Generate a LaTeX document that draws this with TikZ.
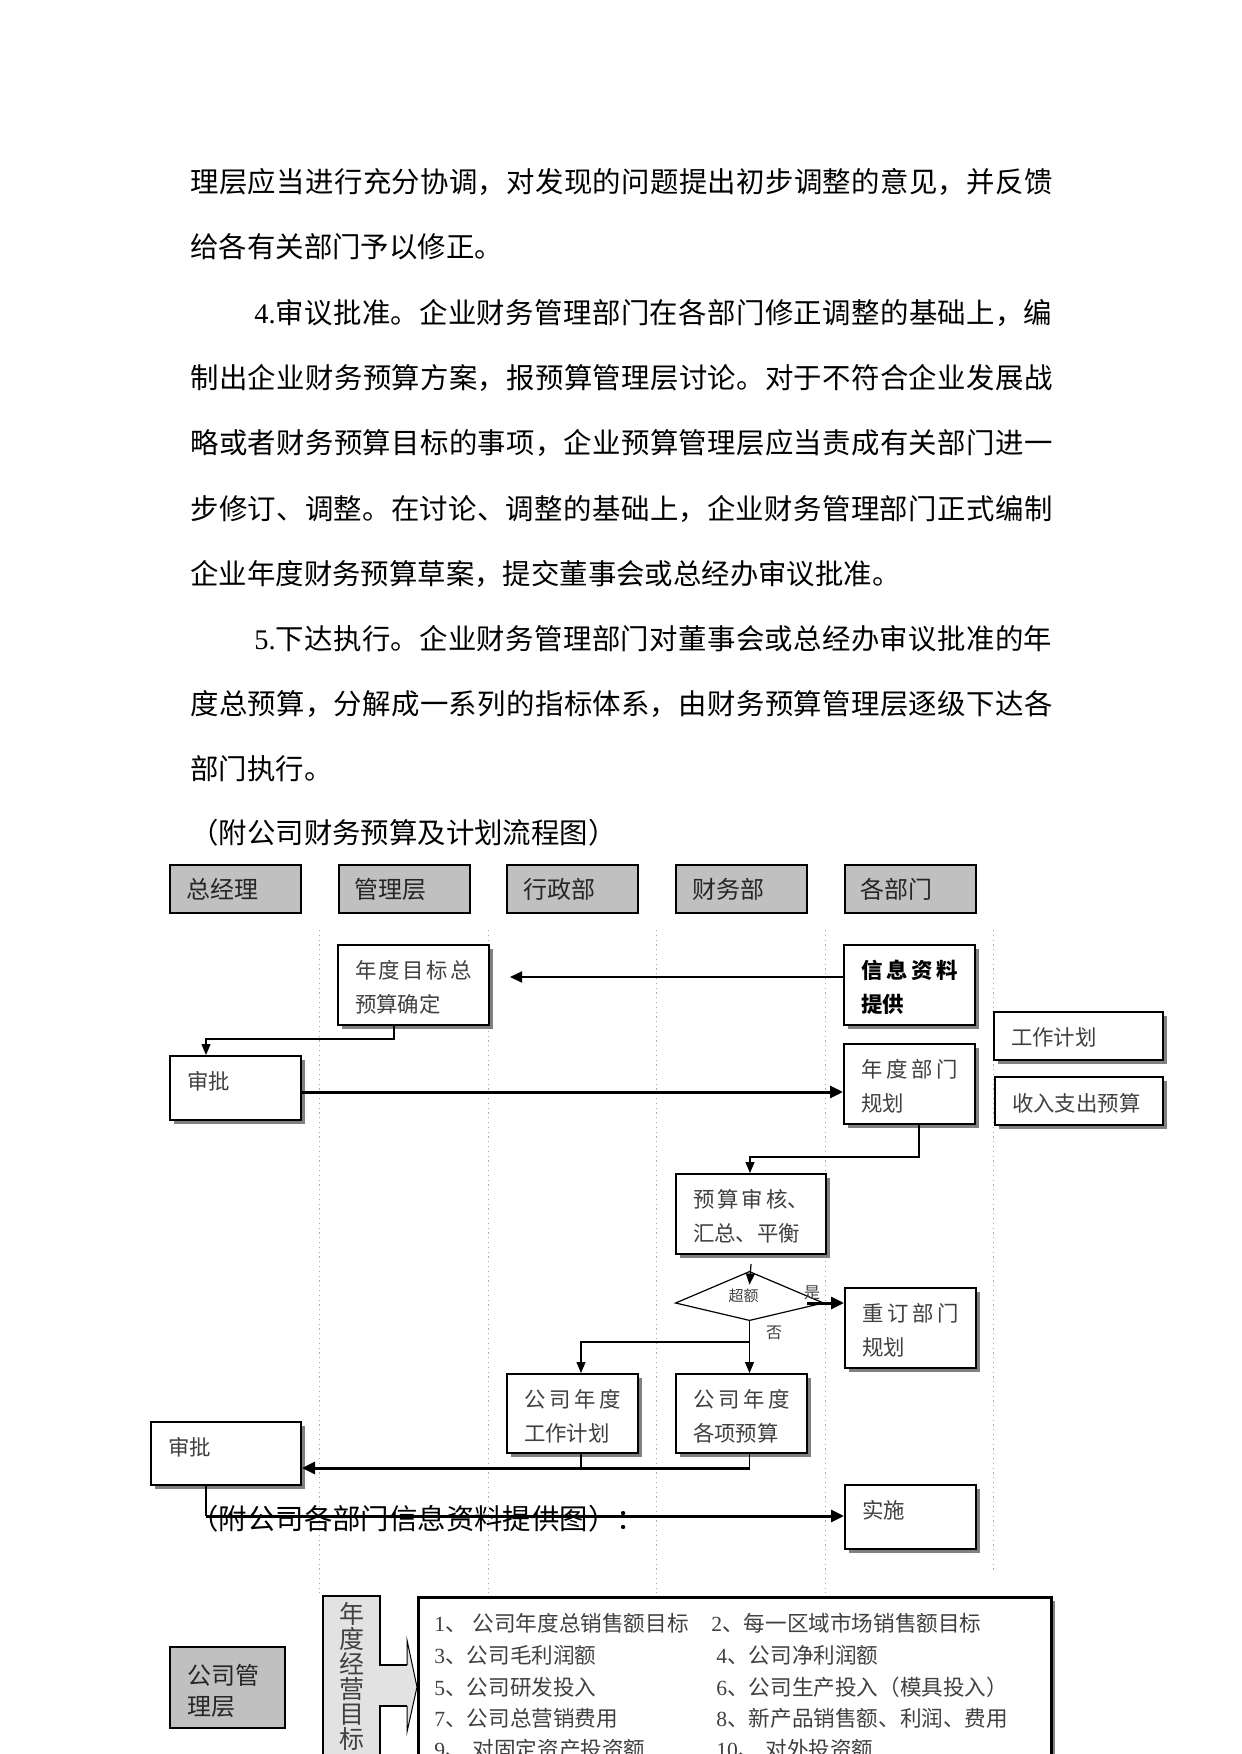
\documentclass[tikz,border=0pt]{standalone}
\usepackage{fontspec}
\setmainfont{Noto Sans CJK SC}
\newfontfamily\tnr{Liberation Serif}
\usetikzlibrary{arrows.meta,shapes.geometric,shadows}
\XeTeXlinebreaklocale "zh"
\XeTeXlinebreakskip=0pt plus 4pt
\definecolor{hdrgray}{HTML}{C0C0C0}
\definecolor{vgray}{HTML}{E2E2E2}
\definecolor{txtgray}{HTML}{404040}
\definecolor{lanegray}{HTML}{A8A8A8}
\newcommand\bx[4]{\parbox[c][#2][t]{#1}{\vspace*{#3}#4}}
\newcommand\jl[2]{\parbox[b]{#1}{\parfillskip=0pt\relax #2}}
\newcommand\dg[1]{{\tnr #1}}
\newcommand\bodyf{\fontsize{14.2pt}{17pt}\selectfont}
\newcommand\boxf{\fontsize{10.7pt}{17pt}\selectfont}
\newcommand\listf{\fontsize{10.8pt}{13pt}\selectfont}
\tikzset{
  bodyline/.style={anchor=base west, inner sep=0pt, font=\bodyf},
  hdr/.style={draw, line width=1pt, fill=hdrgray, anchor=north west,
    minimum width=65.5pt, minimum height=24pt, inner xsep=8pt,
    text width=49.5pt, align=left, font=\fontsize{12pt}{14pt}\selectfont, text=black!85},
  box/.style={draw, line width=1pt, fill=white,
    drop shadow={shadow xshift=2pt, shadow yshift=-1.8pt, fill=black!50, opacity=1},
    anchor=north west, inner xsep=8.5pt, inner ysep=0pt, font=\boxf, text=txtgray},
  lane/.style={draw=lanegray, line width=0.5pt, dash pattern=on 0.6pt off 1.8pt},
  thinarr/.style={line width=0.6pt, -{Triangle[length=5.5pt,width=4.5pt]}},
  thinln/.style={line width=0.6pt},
  medarr/.style={line width=1pt, -{Triangle[length=6pt,width=5.5pt]}},
  thickarr/.style={line width=1.5pt, -{Triangle[length=6.5pt,width=6pt]}},
  lbl/.style={inner sep=0pt, font=\fontsize{8pt}{9pt}\selectfont, text=txtgray},
  listitem/.style={anchor=base west, inner sep=0pt, font=\listf, text=txtgray}
}
\begin{document}
\begin{tikzpicture}[x=0.5pt,y=-0.5pt]
\useasboundingbox (0,0) rectangle (1241,1754);
\clip (0,0) rectangle (1241,1754);
\fill[white] (0,0) rectangle (1241,1754);

% body text
\node[bodyline] (t1) at (190,193) {\jl{431pt}{理层应当进行充分协调，对发现的问题提出初步调整的意见，并反馈}};
\node[bodyline] (t2) at (190,258) {给各有关部门予以修正。};
\node[bodyline] (t3) at (254,324) {\jl{399pt}{\dg{4.}审议批准。企业财务管理部门在各部门修正调整的基础上，编}};
\node[bodyline] (t4) at (190,389) {\jl{431pt}{制出企业财务预算方案，报预算管理层讨论。对于不符合企业发展战}};
\node[bodyline] (t5) at (190,454) {\jl{431pt}{略或者财务预算目标的事项，企业预算管理层应当责成有关部门进一}};
\node[bodyline] (t6) at (190,519) {\jl{431pt}{步修订、调整。在讨论、调整的基础上，企业财务管理部门正式编制}};
\node[bodyline] (t7) at (190,584) {企业年度财务预算草案，提交董事会或总经办审议批准。};
\node[bodyline] (t8) at (254,649) {\jl{399pt}{\dg{5.}下达执行。企业财务管理部门对董事会或总经办审议批准的年}};
\node[bodyline] (t9) at (190,714) {\jl{431pt}{度总预算，分解成一系列的指标体系，由财务预算管理层逐级下达各}};
\node[bodyline] (t10) at (190,779) {部门执行。};
\node[bodyline] (t11) at (190,843) {（附公司财务预算及计划流程图）};

% lanes
\draw[lane] (319,930) -- (319,1593);
\draw[lane] (488,930) -- (488,1593);
\draw[lane] (656,930) -- (656,1593);
\draw[lane] (825,930) -- (825,1593);
\draw[lane] (993,930) -- (993,1572);

% headers
\node[hdr] (h1) at (169,864) {总经理};
\node[hdr] (h2) at (337.5,864) {管理层};
\node[hdr] (h3) at (506,864) {行政部};
\node[hdr] (h4) at (675,864) {财务部};
\node[hdr] (h5) at (843.5,864) {各部门};

% boxes
\node[box] (mb) at (337,944) {\bx{58.5pt}{40pt}{7.5pt}{年度目标总预算确定}};
\node[box, text=black] (info) at (843,944) {\bx{48.5pt}{40pt}{7.5pt}{\bfseries 信息资料提供}};
\node[box] (sp1) at (169,1055) {\bx{48.5pt}{32pt}{7.5pt}{审批}};
\node[box] (ndgh) at (843,1043) {\bx{48.5pt}{40pt}{7.5pt}{年度部门规划}};
\node[box] (gzjh) at (993,1011) {\bx{67.5pt}{24pt}{8pt}{工作计划}};
\node[box] (srzc) at (994,1076) {\bx{67pt}{24pt}{8pt}{收入支出预算}};
\node[box] (ysh) at (675,1173) {\bx{58pt}{40pt}{7.5pt}{预算审核、汇总、平衡}};
\node[diamond, aspect=3, minimum width=73.5pt, minimum height=24pt, inner sep=0pt,
      font=\fontsize{7.5pt}{8pt}\selectfont, text=txtgray] (dia) at (749.5,1296) {\hspace*{-6pt}超额};
\draw[line width=0.6pt] (dia.north) -- ([yshift=-3.5pt]dia.west) -- (dia.south) -- ([yshift=-3.5pt]dia.east) -- cycle;
\node[box] (cd) at (844,1287) {\bx{48.5pt}{40pt}{7.5pt}{重订部门规划}};
\node[box] (gsgz) at (506,1373) {\bx{48.5pt}{39.5pt}{7.5pt}{公司年度工作计划}};
\node[box] (gsys) at (675,1373) {\bx{48.5pt}{39.5pt}{7.5pt}{公司年度各项预算}};
\node[box] (sp2) at (150,1421) {\bx{58pt}{31.5pt}{7.5pt}{审批}};
\node[box] (ss) at (844,1484) {\bx{48.5pt}{32pt}{7.5pt}{实施}};

\node[lbl] (shi) at (812,1293) {是};
\node[lbl] (fou) at (774,1333) {否};

% connectors
\draw[medarr, shorten >=10pt] ([yshift=4pt]info.west) -- ([yshift=4pt]mb.east);
\coordinate (k1) at (394,1039);
\coordinate (k2) at (206,1039);
\draw[thinarr] (mb.south -| k1) -- (k1) -- (k2) -- (sp1.north -| k2);
\coordinate (y3) at (0,1092);
\draw[thickarr] (sp1.east |- y3) -- (ndgh.west |- y3);
\coordinate (k3) at (919,1157);
\coordinate (k4) at (750,1157);
\draw[thinarr] (ndgh.south -| k3) -- (k3) -- (k4) -- (ysh.north -| k4);
\draw[thinarr] ([yshift=-4.5pt]ysh.south) -- ([yshift=-6.5pt]dia.north);
\coordinate (k5) at (807,1303);
\draw[thickarr] (k5) -- (cd.west |- k5);
\draw[thinarr] (dia.south) -- (gsys.north -| dia.south);
\coordinate (k6) at (749.5,1342);
\coordinate (k7) at (581,1342);
\draw[thinarr] (k6) -- (k7) -- (gsgz.north -| k7);
\coordinate (k8) at (581,1468);
\coordinate (k9) at (749.5,1468);
\draw[thinln] (gsgz.south -| k8) -- (k8);
\draw[thinln] (gsys.south -| k9) -- (k9);
\draw[thickarr] (k9) -- (sp2.east |- k9);

\node[bodyline] (t12) at (190,1529) {（附公司各部门信息资料提供图）：};
\coordinate (k10) at (206,1516);
\draw[thinln] (sp2.south -| k10) -- (k10);
\draw[thickarr] (k10) -- (ss.west |- k10);

% lower section
\node[draw, line width=1pt, fill=hdrgray, anchor=north west, inner xsep=8.5pt, inner ysep=0pt,
      font=\fontsize{12pt}{15.5pt}\selectfont, text=black!85] (glc) at (169,1646)
      {\bx{40.5pt}{40.5pt}{8.5pt}{公司管\\理层}};
\node[draw, line width=1pt, fill=vgray, anchor=north west, inner sep=0pt,
      font=\fontsize{12.5pt}{12.5pt}\selectfont, text=txtgray] (vb) at (322,1595)
      {\bx{28.5pt}{102.5pt}{3.25pt}{\centering 年\\度\\经\\营\\目\\标}};
\fill[vgray] (379,1665) -- (407,1665) -- (407,1640) -- (417,1687) -- (407,1732) -- (407,1706) -- (379,1706) -- cycle;
\draw[line width=1pt] (379,1665) -- (407,1665);
\draw[line width=1pt] (379,1706) -- (407,1706);
\draw[line width=0.5pt] (407,1665) -- (407,1640) -- (417,1687) -- (407,1732) -- (407,1706);
\node[draw, line width=1.3pt, fill=white,
      drop shadow={shadow xshift=2pt, shadow yshift=-1.8pt, fill=black!50, opacity=1},
      anchor=north west, minimum width=316.5pt, minimum height=102pt, inner sep=0pt] (big) at (417,1596) {};

\node[listitem] (l1) at (434,1631) {\dg{1}、\hspace{3pt}公司年度总销售额目标};
\node[listitem] (l3) at (434,1663) {\dg{3}、公司毛利润额};
\node[listitem] (l5) at (434,1695) {\dg{5}、公司研发投入};
\node[listitem] (l7) at (434,1726) {\dg{7}、公司总营销费用};
\node[listitem] (l9) at (434,1757) {\dg{9}、\hspace{3pt}对固定资产投资额};
\node[listitem] (l2) at (711,1631) {\dg{2}、每一区域市场销售额目标};
\node[listitem] (l4) at (716,1663) {\dg{4}、公司净利润额};
\node[listitem] (l6) at (716,1695) {\dg{6}、公司生产投入（模具投入）};
\node[listitem] (l8) at (716,1726) {\dg{8}、新产品销售额、利润、费用};
\node[listitem] (l10) at (716,1757) {\dg{10}、\hspace{3pt}对外投资额};
\end{tikzpicture}
\end{document}
